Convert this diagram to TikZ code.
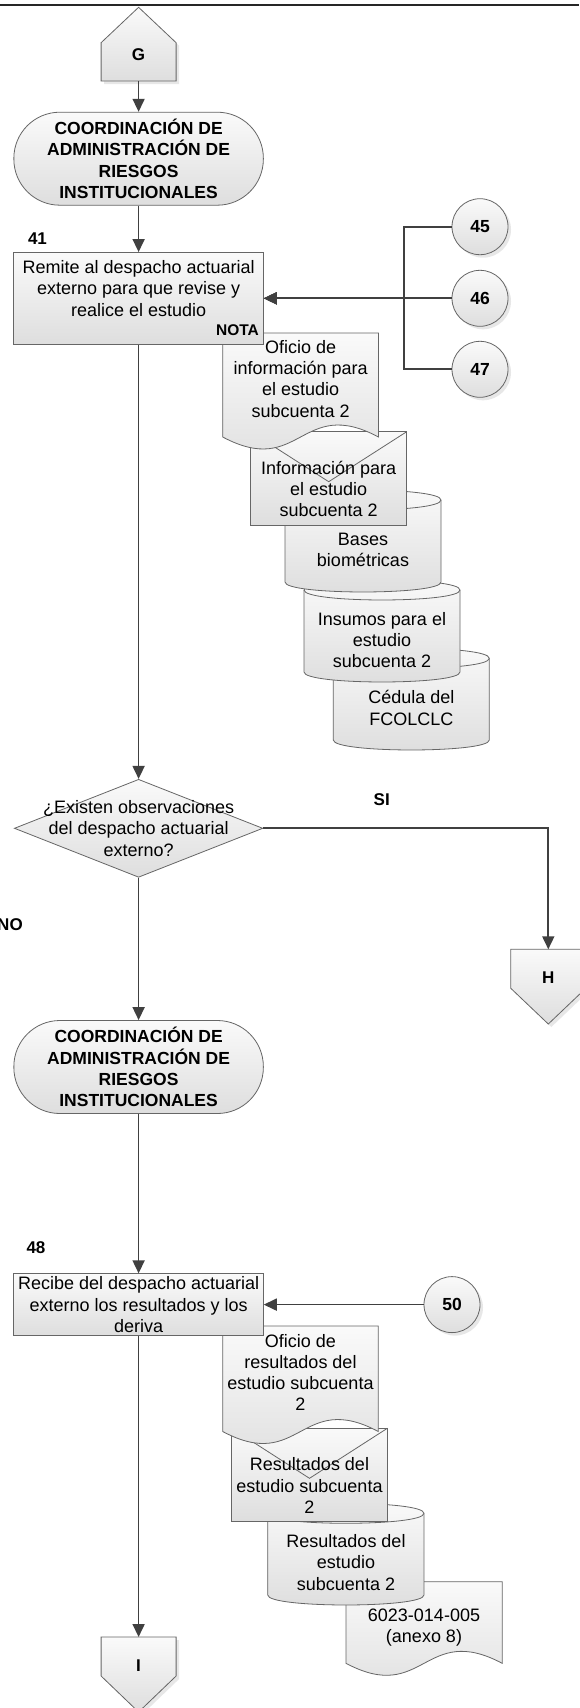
\documentclass[tikz,border=0pt]{standalone}
\usepackage{fontspec}
\setmainfont{Liberation Sans}
\usetikzlibrary{arrows.meta,shapes.geometric,shadows}

% document symbol with a wavy lower edge: x1, top, x2, wave ends
\newcommand{\flowdoc}[4]{%
  \path[box] (#1,#2) -- (#3,#2) -- (#3,#4)
    .. controls ({(#1+#3)/2},{#4-41.5}) and ({(#1+#3)/2},{#4+41.5}) .. (#1,#4) -- cycle;}
% envelope symbol: x1, y1, x2, y2
\newcommand{\flowenv}[4]{%
  \path[box] (#1,#2) rectangle (#3,#4);
  \draw[rim] (#1,#2) -- ({(#1+#3)/2},{#2+50}) -- (#3,#2);}
% stored data cylinder: x1, top corners, x2, bottom corners
\newcommand{\flowcyl}[4]{%
  \path[box] (#1,#2) .. controls (#1,{#2-13.3}) and (#3,{#2-13.3}) .. (#3,#2)
    -- (#3,#4) .. controls (#3,{#4+13.3}) and (#1,{#4+13.3}) .. (#1,#4) -- cycle;
  \draw[rim] (#1,#2) .. controls (#1,{#2+13.3}) and (#3,{#2+13.3}) .. (#3,#2);}

\tikzset{
  every node/.style={font=\fontsize{18}{21.3}\selectfont, inner sep=0pt, align=center},
  box/.style={draw=black!60, line width=0.8pt, top color=black!2, bottom color=black!13},
  rim/.style={draw=black!60, line width=0.8pt},
  shadowed/.style={drop shadow={shadow xshift=3pt, shadow yshift=-3pt, fill=black!18, draw=none}},
  flow/.style={draw=black!75, line width=1.7pt, -{Triangle[length=13pt,width=12pt]}},
  lbl/.style={font=\fontsize{17}{21.3}\selectfont\bfseries},
  small/.style={font=\fontsize{15.5}{18}\selectfont\bfseries},
  term/.style={box, rectangle, rounded corners=46pt, minimum width=249.5pt, minimum height=93pt,
    font=\fontsize{17.5}{21.3}\selectfont\bfseries},
  proc/.style={box, rectangle, minimum width=249.5pt},
  conn/.style={box, shadowed, circle, minimum size=56pt, font=\fontsize{17.5}{21.3}\selectfont\bfseries},
  decision/.style={box, diamond, minimum width=248.5pt, minimum height=98pt},
}

\begin{document}
\begin{tikzpicture}[x=1pt, y=-1pt]
\fill[white] (0,0) rectangle (579,1708);
\useasboundingbox (0,0) rectangle (579,1708);

\draw[line width=2pt, black!85] (0,5) -- (579,5);

% off-page connector G
\path[box, shadowed] (101.1,81) -- (101.1,42.7) -- (138.6,7.3) -- (176.1,42.7) -- (176.1,81) -- cycle;
\node[lbl] (G) at (138.6,55) {G};
\coordinate (Gout) at (138.6,81);

\node[term] (t1) at (138.6,158.7) {COORDINACIÓN DE\\ADMINISTRACIÓN DE\\RIESGOS\\INSTITUCIONALES};
\draw[flow] (Gout) -- (t1);

\node[lbl] (n41) at (37.5,239) {41};

% documents of step 41
\flowcyl{333.3}{658.3}{489.3}{740}
\node (cedula) at (411.3,708) {Cédula del\\FCOLCLC};
\flowcyl{304}{590}{460}{672}
\node (insumos) at (382,640) {Insumos para el\\estudio\\subcuenta 2};
\flowcyl{285}{500}{441}{582}
\node (bases) at (363,550) {Bases\\biométricas};
\flowenv{250.7}{431.7}{406.7}{525}
\node (info) at (328.7,489) {Información para\\el estudio\\subcuenta 2};
\flowdoc{222.7}{333}{378.5}{437}
\node (oficio1) at (300.6,378.7) {Oficio de\\información para\\el estudio\\subcuenta 2};

\node[proc, minimum height=91.7pt] (r41) at (138.6,298.3) {};
\node (r41t) at (138.6,288.5) {Remite al despacho actuarial\\externo para que revise y\\realice el estudio};
\node[small] (nota) at (237.5,330) {NOTA};
\draw[flow] (t1) -- (r41);

\node[conn] (c45) at (480,226.7) {45};
\node[conn] (c46) at (480,298.3) {46};
\node[conn] (c47) at (480,369.3) {47};
\coordinate (jn) at (404.3,298.3);
\draw[flow] (c45.west) -| (jn) -- (r41.east);
\draw[flow] (c46.west) -- (r41.east);
\draw[flow] (c47.west) -| (jn) -- (r41.east);

% decision
\node[decision] (dec) at (138.6,828.3) {};
\node (dect) at (138.6,828.3) {¿Existen observaciones\\del despacho actuarial\\externo?};
\draw[flow] (r41) -- (dec);

\node[lbl] (si) at (381.7,799.3) {SI};
\node[lbl] (no) at (10,925) {NO};

\path[box, shadowed] (510.8,949.3) -- (585.8,949.3) -- (585.8,988.3) -- (548.3,1024) -- (510.8,988.3) -- cycle;
\node[lbl] (H) at (548.3,977.3) {H};
\coordinate (Hin) at (548.3,949.3);
\draw[flow] (dec.east) -| (Hin);

\node[term] (t2) at (138.6,1067) {COORDINACIÓN DE\\ADMINISTRACIÓN DE\\RIESGOS\\INSTITUCIONALES};
\draw[flow] (dec) -- (t2);

\node[lbl] (n48) at (36,1248) {48};

% documents of step 48
\flowdoc{346}{1581.7}{502.2}{1663.3}
\node (anexo) at (424,1627.8) {6023-014-005\\(anexo 8)};
\flowcyl{267.7}{1513.3}{424}{1595}
\node (res3) at (346,1562.5) {Resultados del\\estudio\\subcuenta 2};
\flowenv{231.7}{1428.3}{387.3}{1521}
\node (res2) at (309.5,1485.6) {Resultados del\\estudio subcuenta\\2};
\flowdoc{222.7}{1326}{378.3}{1431.5}
\node (oficio2) at (300.5,1372.5) {Oficio de\\resultados del\\estudio subcuenta\\2};

\node[proc, minimum height=61.7pt] (r48) at (138.6,1304.6) {Recibe del despacho actuarial\\externo los resultados y los\\deriva};
\draw[flow] (t2) -- (r48);

\node[conn] (c50) at (452,1304.6) {50};
\draw[flow] (c50) -- (r48);

% off-page connector I
\path[box, shadowed] (101.1,1637) -- (176.1,1637) -- (176.1,1676) -- (138.6,1712) -- (101.1,1676) -- cycle;
\node[lbl] (I) at (138.6,1666) {I};
\coordinate (Iin) at (138.6,1637);
\draw[flow] (r48) -- (Iin);
\end{tikzpicture}
\end{document}
